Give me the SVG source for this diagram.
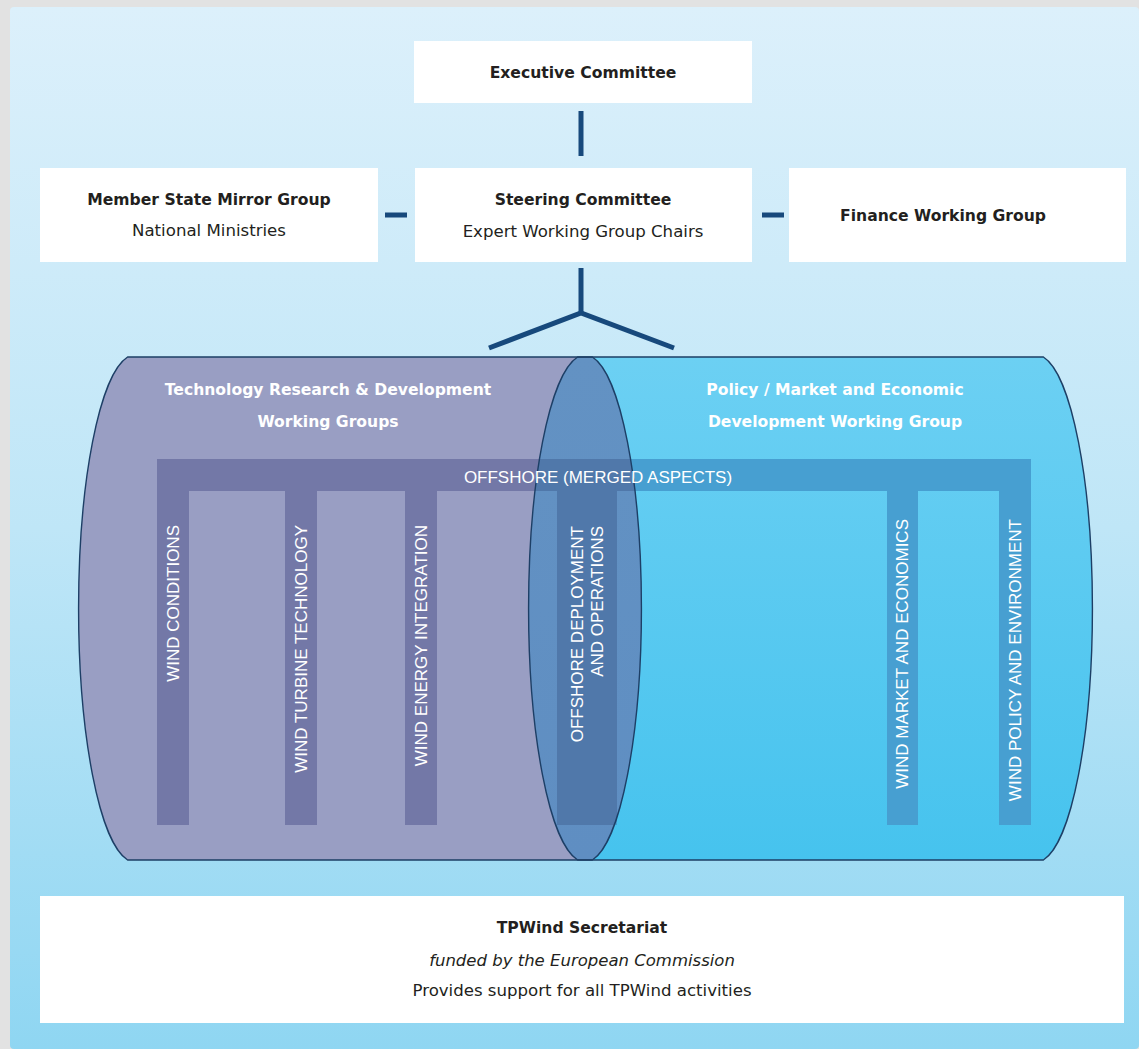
<svg xmlns="http://www.w3.org/2000/svg" width="1139" height="1049" viewBox="0 0 1139 1049">
  <defs>
    <linearGradient id="panelGrad" x1="0" y1="0" x2="0" y2="1">
      <stop offset="0" stop-color="#dcf0fb"/>
      <stop offset="0.5" stop-color="#bfe6f7"/>
      <stop offset="1" stop-color="#8fd6f2"/>
    </linearGradient>
    <linearGradient id="rightGrad" x1="0" y1="0" x2="0" y2="1">
      <stop offset="0" stop-color="#6cd0f3"/>
      <stop offset="1" stop-color="#46c3ee"/>
    </linearGradient>
    <linearGradient id="lensGrad" x1="0" y1="0" x2="0" y2="1">
      <stop offset="0" stop-color="#6392c3"/>
      <stop offset="1" stop-color="#5f8ec2"/>
    </linearGradient>
    <path id="cylL" d="M127.6,357 L592.4,357 A57,254 0 0 1 592.4,860 L127.6,860 A57,254 0 0 1 127.6,357 Z"/>
    <path id="cylR" d="M577.6,357 L1043.4,357 A57,254 0 0 1 1043.4,860 L577.6,860 A57,254 0 0 1 577.6,357 Z"/>
    <path id="lens" d="M577.6,357 L592.4,357 A57,254 0 0 1 592.4,860 L577.6,860 A57,254 0 0 1 577.6,357 Z"/>
    <clipPath id="clipL"><use href="#cylL"/></clipPath>
    <clipPath id="clipR"><use href="#cylR"/></clipPath>
    <clipPath id="clipLens"><use href="#lens"/></clipPath>
    <g id="bars">
      <rect x="157" y="459" width="874" height="32"/>
      <rect x="157" y="491" width="32" height="334"/>
      <rect x="285" y="491" width="32" height="334"/>
      <rect x="405" y="491" width="32" height="334"/>
      <rect x="557" y="491" width="60" height="334"/>
      <rect x="887" y="491" width="31" height="334"/>
      <rect x="999" y="491" width="32" height="334"/>
    </g>
  </defs>
  <style>
    .box { fill: #ffffff; }
    .b { font-family: "DejaVu Sans", sans-serif; font-weight: bold; font-size: 15.6px; fill: #231f20; text-anchor: middle; }
    .r { font-family: "DejaVu Sans", sans-serif; font-size: 16.6px; fill: #231f20; text-anchor: middle; }
    .i { font-family: "DejaVu Sans", sans-serif; font-style: italic; font-size: 16.5px; fill: #231f20; text-anchor: middle; }
    .wt { font-family: "DejaVu Sans", sans-serif; font-weight: bold; font-size: 15.6px; fill: #ffffff; text-anchor: middle; }
    .lab { font-family: "Liberation Sans", Arial, sans-serif; font-size: 17px; fill: #ffffff; }
    .conn { stroke: #17497c; stroke-width: 5; fill: none; }
    .edge { fill: none; stroke: #1d3f66; stroke-width: 1.4; }
  </style>

  <!-- background -->
  <rect x="0" y="0" width="1139" height="1049" fill="#e2e2e2"/>
  <rect x="10" y="7" width="1129" height="1042" rx="4" fill="url(#panelGrad)"/>

  <!-- cylinders -->
  <g id="working-groups">
    <use href="#cylR" fill="url(#rightGrad)"/>
    <use href="#cylL" fill="#999ec3"/>
    <use href="#lens" fill="url(#lensGrad)"/>
    <use href="#bars" fill="#7378a7" clip-path="url(#clipL)"/>
    <use href="#bars" fill="#479fd1" clip-path="url(#clipR)"/>
    <use href="#bars" fill="#5078aa" clip-path="url(#clipLens)"/>
    <use href="#cylL" class="edge"/>
    <use href="#cylR" class="edge"/>
  </g>

  <g id="tech-title">
    <text class="wt" x="328" y="395">Technology Research &amp; Development</text>
    <text class="wt" x="328" y="427">Working Groups</text>
  </g>
  <g id="policy-title">
    <text class="wt" x="835" y="395">Policy / Market and Economic</text>
    <text class="wt" x="835" y="427">Development Working Group</text>
  </g>

  <g id="offshore-merged">
    <text class="lab" x="598" y="483" text-anchor="middle">OFFSHORE (MERGED ASPECTS)</text>
  </g>
  <g id="wind-conditions">
    <text class="lab" transform="translate(179,525) rotate(-90)" text-anchor="end">WIND CONDITIONS</text>
  </g>
  <g id="wind-turbine-technology">
    <text class="lab" transform="translate(307,525) rotate(-90)" text-anchor="end">WIND TURBINE TECHNOLOGY</text>
  </g>
  <g id="wind-energy-integration">
    <text class="lab" transform="translate(427,525) rotate(-90)" text-anchor="end">WIND ENERGY INTEGRATION</text>
  </g>
  <g id="offshore-deployment">
    <text class="lab" transform="translate(583,526) rotate(-90)" text-anchor="end">OFFSHORE DEPLOYMENT</text>
    <text class="lab" transform="translate(603,526) rotate(-90)" text-anchor="end">AND OPERATIONS</text>
  </g>
  <g id="wind-market">
    <text class="lab" transform="translate(908,519) rotate(-90)" text-anchor="end">WIND MARKET AND ECONOMICS</text>
  </g>
  <g id="wind-policy">
    <text class="lab" transform="translate(1021,519) rotate(-90)" text-anchor="end">WIND POLICY AND ENVIRONMENT</text>
  </g>

  <!-- connectors -->
  <g id="connectors">
    <line class="conn" x1="581" y1="111" x2="581" y2="156"/>
    <line class="conn" x1="385" y1="215" x2="407" y2="215"/>
    <line class="conn" x1="762" y1="215" x2="784" y2="215"/>
    <line class="conn" x1="581" y1="268" x2="581" y2="313"/>
    <polyline class="conn" points="489,348 581,313 674,348" stroke-linejoin="miter"/>
  </g>

  <!-- nodes -->
  <g id="executive-committee">
    <rect class="box" x="414" y="41" width="338" height="62"/>
    <text class="b" x="583" y="78">Executive Committee</text>
  </g>
  <g id="member-state-mirror-group">
    <rect class="box" x="40" y="168" width="338" height="94"/>
    <text class="b" x="209" y="205">Member State Mirror Group</text>
    <text class="r" x="209" y="236">National Ministries</text>
  </g>
  <g id="steering-committee">
    <rect class="box" x="415" y="168" width="337" height="94"/>
    <text class="b" x="583" y="205">Steering Committee</text>
    <text class="r" x="583" y="237">Expert Working Group Chairs</text>
  </g>
  <g id="finance-working-group">
    <rect class="box" x="789" y="168" width="337" height="94"/>
    <text class="b" x="943" y="221">Finance Working Group</text>
  </g>
  <g id="secretariat">
    <rect class="box" x="40" y="896" width="1084" height="127"/>
    <text class="b" x="582" y="933">TPWind Secretariat</text>
    <text class="i" x="582" y="966">funded by the European Commission</text>
    <text class="r" x="582" y="996">Provides support for all TPWind activities</text>
  </g>
</svg>
